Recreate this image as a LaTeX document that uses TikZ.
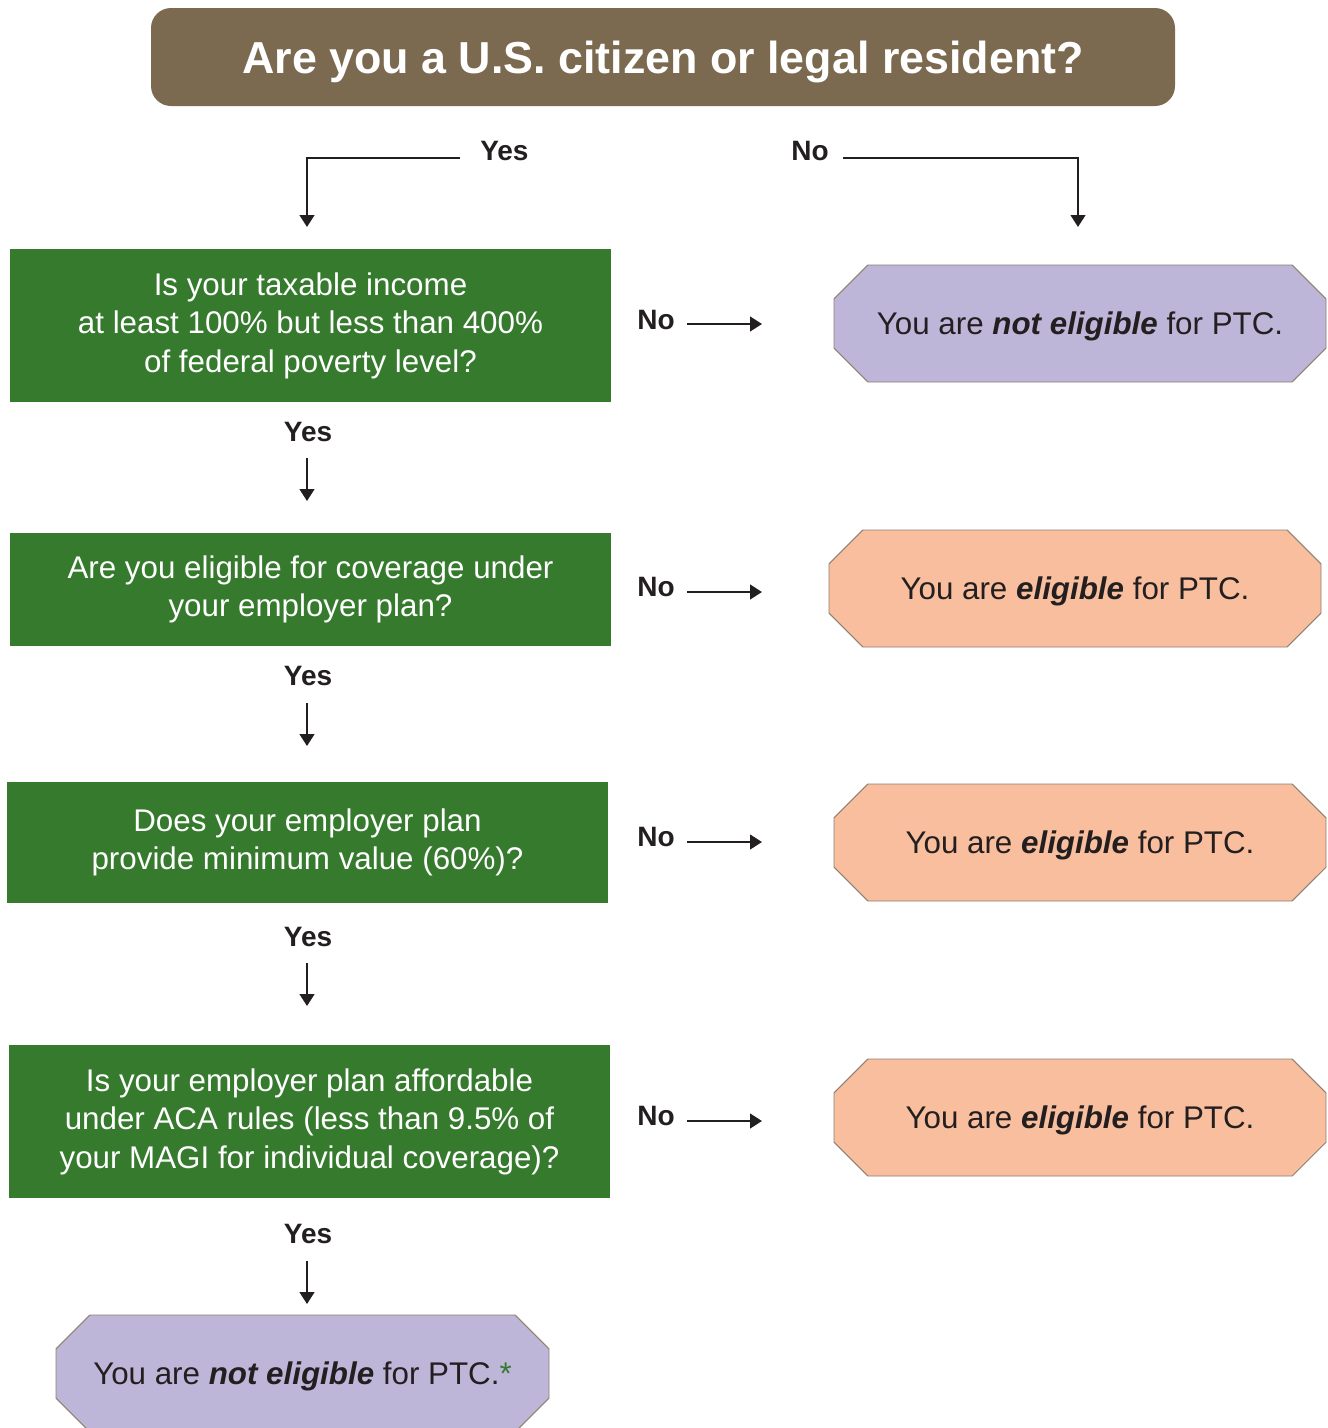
\documentclass[tikz,border=0pt]{standalone}
\usepackage{fontspec}
\setmainfont{Liberation Sans}
\usetikzlibrary{arrows.meta,shapes.misc}
\definecolor{hdrbrown}{HTML}{7C6A50}
\definecolor{qgreen}{HTML}{367A2E}
\definecolor{npurple}{HTML}{BDB6D8}
\definecolor{epeach}{HTML}{F8BE9D}
\definecolor{octline}{HTML}{8E7F70}
\definecolor{ink}{HTML}{231F20}
\tikzset{
  header/.style={fill=hdrbrown, rounded corners=15pt, minimum width=768pt, minimum height=73.5pt,
    text=white, font=\fontsize{33.6pt}{40pt}\selectfont\bfseries, inner sep=0pt,
    text height=24pt, text depth=0pt},
  qbox/.style={fill=qgreen, text=white, align=center, inner sep=0pt, minimum width=450.75pt,
    font=\fontsize{23.5pt}{28.9pt}\selectfont},
  octbox/.style={chamfered rectangle, chamfered rectangle xsep=15pt, chamfered rectangle ysep=17pt,
    draw=octline, line width=0.7pt, minimum width=369pt, minimum height=87.75pt, inner sep=0pt,
    text=ink, font=\fontsize{23.5pt}{28.9pt}\selectfont, text height=16.8pt, text depth=0pt},
  notel/.style={octbox, fill=npurple},
  eligl/.style={octbox, fill=epeach},
  lbl/.style={inner sep=0pt, text=ink, font=\fontsize{21pt}{25pt}\selectfont\bfseries},
  arr/.style={draw=ink, line width=1.8pt, -{Triangle[width=11pt,length=9pt]}},
}
\begin{document}
\begin{tikzpicture}[x=0.75pt,y=-0.75pt]
\useasboundingbox (0,0) rectangle (1328,1428);
% header
\node[header] (hdr) at (663,57) {Are you a U.S. citizen or legal resident?};
% top labels
\node[lbl,anchor=west] (yes0) at (480,151) {Yes};
\node[lbl,anchor=east] (no0) at (829,151) {No};
\coordinate (t1) at (307,227);
\coordinate (t2) at (1078,227);
\draw[arr] (yes0.west) ++(-20,7) -| (t1);
\draw[arr] (no0.east) ++(14,7) -| (t2);
% questions
\node[qbox, minimum height=114.75pt] (q1) at (310.5,325.5) {Is your taxable income\\at least 100\% but less than 400\%\\of federal poverty level?};
\node[qbox, minimum height=84.75pt] (q2) at (310.5,589.5) {Are you eligible for coverage under\\your employer plan?};
\node[qbox, minimum height=90.75pt] (q3) at (307.5,842.5) {Does your employer plan\\provide minimum value (60\%)?};
\node[qbox, minimum height=114.75pt] (q4) at (309.5,1121.5) {Is your employer plan affordable\\under ACA rules (less than 9.5\% of\\your MAGI for individual coverage)?};
% outcomes
\node[notel] (o1) at (1080,323.5) {You are \textbf{\textit{not eligible}} for PTC.};
\node[eligl] (o2) at (1075,588.5) {You are \textbf{\textit{eligible}} for PTC.};
\node[eligl] (o3) at (1080,842.5) {You are \textbf{\textit{eligible}} for PTC.};
\node[eligl] (o4) at (1080,1117.5) {You are \textbf{\textit{eligible}} for PTC.};
\node[notel, minimum width=369.75pt] (o5) at (302.5,1373.5) {You are \textbf{\textit{not eligible}} for PTC.\textcolor{qgreen}{*}};
% No labels and arrows
\node[lbl,anchor=east] (n1) at (675,320) {No};
\node[lbl,anchor=east] (n2) at (675,587) {No};
\node[lbl,anchor=east] (n3) at (675,837) {No};
\node[lbl,anchor=east] (n4) at (675,1116) {No};
\draw[arr] (n1.east) ++(12,4) -- ++(75,0);
\draw[arr] (n2.east) ++(12,5) -- ++(75,0);
\draw[arr] (n3.east) ++(12,5) -- ++(75,0);
\draw[arr] (n4.east) ++(12,5) -- ++(75,0);
% Yes labels and arrows
\node[lbl] (y1) at (308,432) {Yes};
\node[lbl] (y2) at (308,676) {Yes};
\node[lbl] (y3) at (308,937) {Yes};
\node[lbl] (y4) at (308,1234) {Yes};
\draw[arr] (y1.south) ++(-1,16) -- ++(0,43);
\draw[arr] (y2.south) ++(-1,17) -- ++(0,43);
\draw[arr] (y3.south) ++(-1,16) -- ++(0,43);
\draw[arr] (y4.south) ++(-1,17) -- ++(0,43);
\end{tikzpicture}
\end{document}
